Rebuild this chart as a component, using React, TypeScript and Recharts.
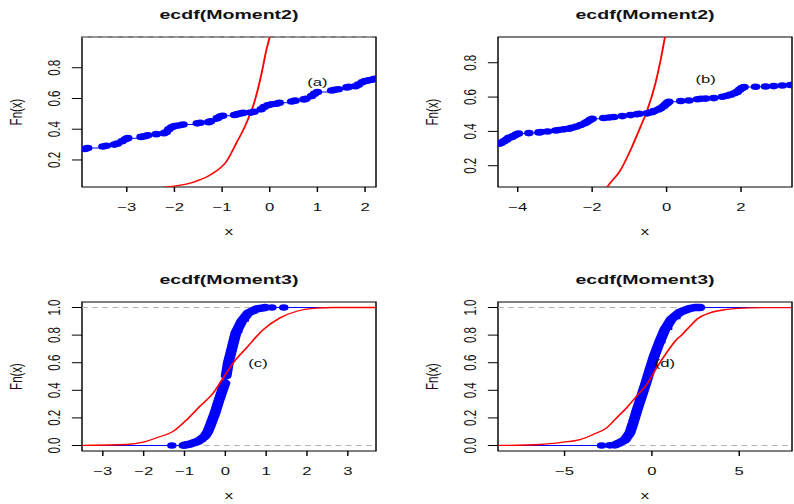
import React from 'react';
import { ComposedChart, Line, Scatter, XAxis, YAxis, ReferenceLine, ReferenceArea, ReferenceDot } from 'recharts';

// the reference is an R plot that was stretched sideways; we draw narrow and stretch the whole page
const S = 794 / 548;
const FONT = '"Liberation Sans", Arial, Helvetica, sans-serif';
const BLUE = '#0000ff';
const RED = '#ff0000';

type Pt = [number, number];

// (a) ecdf(Moment2)
const ecdfA: Pt[] = [
  [-3.88, 0.272], [-3.82, 0.277], [-3.5, 0.288], [-3.43, 0.292], [-3.26, 0.3], [-3.2, 0.306], [-3.1, 0.322],
  [-3.03, 0.335], [-2.98, 0.342], [-2.7, 0.35], [-2.62, 0.355], [-2.56, 0.36], [-2.38, 0.368], [-2.22, 0.374],
  [-2.17, 0.382], [-2.12, 0.4], [-2.06, 0.412], [-2.0, 0.42], [-1.92, 0.424], [-1.82, 0.43], [-1.52, 0.438],
  [-1.46, 0.442], [-1.28, 0.446], [-1.24, 0.452], [-1.1, 0.472], [-1.04, 0.482], [-0.99, 0.488], [-0.74, 0.492],
  [-0.68, 0.498], [-0.62, 0.502], [-0.56, 0.506], [-0.4, 0.508], [-0.33, 0.514], [-0.18, 0.53], [-0.12, 0.544],
  [-0.04, 0.556], [0.04, 0.562], [0.14, 0.566], [0.2, 0.572], [0.46, 0.58], [0.53, 0.586], [0.72, 0.594],
  [0.76, 0.598], [0.88, 0.616], [0.94, 0.63], [1.0, 0.642], [1.3, 0.652], [1.36, 0.656], [1.44, 0.66],
  [1.62, 0.672], [1.66, 0.676], [1.8, 0.68], [1.86, 0.69], [1.94, 0.706], [2.0, 0.714], [2.08, 0.718],
  [2.14, 0.722], [2.2, 0.728],
];
const normA: Pt[] = [
  [-2.6, 0.0], [-2.1, 0.027], [-1.75, 0.042], [-1.47, 0.07], [-1.19, 0.114], [-0.91, 0.19], [-0.7, 0.31],
  [-0.49, 0.44], [-0.31, 0.59], [-0.17, 0.765], [-0.07, 0.917], [0.0, 1.0], [0.05, 1.05],
];

// (b) ecdf(Moment2)
const ecdfB: Pt[] = [
  [-4.5, 0.328], [-4.44, 0.334], [-4.37, 0.343], [-4.3, 0.352], [-4.24, 0.362], [-4.16, 0.368], [-4.1, 0.375],
  [-4.04, 0.382], [-3.98, 0.388], [-3.7, 0.39], [-3.43, 0.394], [-3.38, 0.396], [-3.2, 0.399], [-2.98, 0.405],
  [-2.9, 0.408], [-2.76, 0.412], [-2.62, 0.416], [-2.54, 0.421], [-2.42, 0.428], [-2.31, 0.437], [-2.2, 0.447],
  [-2.13, 0.456], [-2.06, 0.466], [-2.0, 0.474], [-1.69, 0.478], [-1.55, 0.481], [-1.42, 0.484], [-1.19, 0.489],
  [-0.97, 0.495], [-0.8, 0.5], [-0.74, 0.503], [-0.52, 0.505], [-0.4, 0.512], [-0.34, 0.518], [-0.22, 0.528],
  [-0.16, 0.535], [-0.08, 0.546], [-0.03, 0.556], [0.02, 0.566], [0.06, 0.573], [0.38, 0.577], [0.6, 0.58],
  [0.83, 0.587], [0.92, 0.59], [1.05, 0.591], [1.27, 0.594], [1.5, 0.602], [1.62, 0.608], [1.72, 0.614],
  [1.82, 0.622], [1.9, 0.63], [1.96, 0.642], [2.02, 0.652], [2.08, 0.658], [2.39, 0.66], [2.66, 0.662],
  [2.88, 0.664], [3.11, 0.667], [3.33, 0.67],
];
const normB: Pt[] = [
  [-1.9, -0.05], [-1.59, 0.077], [-1.24, 0.174], [-0.97, 0.291], [-0.7, 0.427], [-0.52, 0.524], [-0.3, 0.68],
  [-0.16, 0.816], [-0.05, 0.942], [0.05, 1.05],
];

// (c) ecdf(Moment3)
const bandCLow: Pt[] = [
  [-1.0, 0.003], [-0.87, 0.01], [-0.66, 0.031], [-0.5, 0.067], [-0.43, 0.1], [-0.375, 0.14], [-0.31, 0.19],
  [-0.25, 0.237], [-0.15, 0.333], [-0.065, 0.406], [-0.01, 0.452],
];
const bandCHigh: Pt[] = [
  [0.02, 0.505], [0.074, 0.6], [0.157, 0.696], [0.26, 0.817], [0.4, 0.9], [0.56, 0.96], [0.77, 0.99], [0.97, 1.0],
];
const dotsC: Pt[] = [[-1.31, 0.0], [-1.03, 0.0], [0.97, 1.0], [1.14, 1.0], [1.43, 1.0]];
const normC: Pt[] = [
  [-3.6, 0.0], [-2.42, 0.007], [-2.01, 0.024], [-1.68, 0.056], [-1.27, 0.104], [-0.94, 0.188], [-0.62, 0.285],
  [-0.29, 0.382], [-0.05, 0.49], [0.196, 0.6], [0.52, 0.708], [0.93, 0.84], [1.34, 0.925], [1.75, 0.973],
  [2.24, 0.995], [2.65, 1.0], [3.8, 1.0],
];

// (d) ecdf(Moment3)
const bandD: Pt[] = [
  [-2.1, 0.005], [-1.93, 0.014], [-1.55, 0.039], [-1.26, 0.092], [-1.07, 0.164], [-0.84, 0.261], [-0.59, 0.357],
  [-0.34, 0.454], [-0.11, 0.551], [0.13, 0.647], [0.42, 0.744], [0.74, 0.84], [1.13, 0.918], [1.6, 0.966],
  [2.08, 0.99], [2.46, 1.0], [2.75, 1.0],
];
const dotsD: Pt[] = [[-2.88, 0.0], [-2.4, 0.001], [2.75, 1.0]];
const normD: Pt[] = [
  [-8.9, 0.0], [-6.41, 0.007], [-5.08, 0.024], [-4.12, 0.043], [-3.36, 0.08], [-2.59, 0.128], [-2.02, 0.2],
  [-1.45, 0.273], [-0.88, 0.357], [-0.3, 0.442], [0.27, 0.563], [0.84, 0.672], [1.41, 0.768], [1.7, 0.80],
  [1.99, 0.84], [2.3, 0.88], [2.56, 0.913], [3.32, 0.961], [4.28, 0.986], [5.61, 0.998], [8.1, 1.0],
];

const ticksXA = [-3, -2, -1, 0, 1, 2];
const ticksXB = [-4, -2, 0, 2];
const ticksXC = [-3, -2, -1, 0, 1, 2, 3];
const ticksXD = [-5, 0, 5];
const ticksY2 = [0.2, 0.4, 0.6, 0.8];
const ticksY3 = [0, 0.2, 0.4, 0.6, 0.8, 1.0];

const toObj = (pts: Pt[]) => pts.map(([x, y]) => ({ x, y }));

const fmtX = (v: number) => (v < 0 ? '\u2212' + Math.abs(v) : String(v));

const XTick = (props: any) => (
  <text x={props.x} y={props.y} dy="0.71em" textAnchor="middle" fontSize={11.5} fontFamily={FONT} fill="#111">
    {fmtX(props.payload.value)}
  </text>
);

const YTick = (props: any) => {
  const { x, y, payload } = props;
  return (
    <text x={x} y={y} dy="0.35em" textAnchor="middle" fontSize={11.5} fontFamily={FONT} fill="#111"
      transform={`rotate(-90, ${x}, ${y})`}>
      {payload.value.toFixed(1)}
    </text>
  );
};

const Dot = (p: any) => <circle cx={p.cx} cy={p.cy} r={3.3} fill={BLUE} />;

interface PanelProps {
  left: number; top: number;
  boxL: number; boxR: number; boxT: number; boxB: number;
  xDom: [number, number]; yDom: [number, number];
  xTicks: number[]; yTicks: number[];
  step: Pt[]; dots: Pt[]; band?: { x: number; y: number | null }[]; red: Pt[];
  tag: string; tagAt: Pt;
}

const Panel = (p: PanelProps) => {
  const margin = {
    left: (p.boxL - p.left) / S - 40,
    right: (p.left + 397 - p.boxR) / S,
    top: p.boxT - p.top,
    bottom: p.top + 252 - p.boxB - 30,
  };
  return (
    <div style={{ position: 'absolute', left: p.left / S, top: p.top }}>
      <ComposedChart width={397 / S} height={252} margin={margin}>
        <XAxis dataKey="x" type="number" domain={p.xDom} allowDataOverflow ticks={p.xTicks} interval={0}
          height={30} axisLine={false} tickLine={{ stroke: '#000' }} tickSize={5} tickMargin={11} tick={<XTick />} />
        <YAxis dataKey="y" type="number" domain={p.yDom} allowDataOverflow ticks={p.yTicks} interval={0}
          width={40} axisLine={false} tickLine={{ stroke: '#000' }} tickSize={7} tickMargin={12} tick={<YTick />} />
        <ReferenceArea x1={p.xDom[0]} x2={p.xDom[1]} y1={p.yDom[0]} y2={p.yDom[1]} fill="none" fillOpacity={0}
          stroke="#000" strokeWidth={1} ifOverflow="visible" />
        <ReferenceLine y={0} stroke="#b3b3b3" strokeWidth={1.2} strokeDasharray="4 3" />
        <ReferenceLine y={1} stroke="#b3b3b3" strokeWidth={1.2} strokeDasharray="4 3" />
        <ReferenceDot x={p.tagAt[0]} y={p.tagAt[1]} r={0} fill="none" stroke="none"
          label={{ value: p.tag, position: 'center', fill: '#111', fontSize: 11.5, fontFamily: FONT }} />
        <Line data={toObj(p.step)} dataKey="y" type="stepAfter" stroke={BLUE} strokeWidth={1} dot={false}
          isAnimationActive={false} />
        {p.band && (
          <Line data={p.band} dataKey="y" type="linear" stroke={BLUE} strokeWidth={7.5} strokeLinecap="round"
            strokeLinejoin="round" dot={false} connectNulls={false} isAnimationActive={false} />
        )}
        <Scatter data={toObj(p.dots)} dataKey="y" shape={<Dot />} isAnimationActive={false} />
        <Line data={toObj(p.red)} dataKey="y" type="monotone" stroke={RED} strokeWidth={1.3} dot={false}
          isAnimationActive={false} />
      </ComposedChart>
    </div>
  );
};

const panels: (PanelProps & { title: string })[] = [
  {
    title: 'ecdf(Moment2)', left: 0, top: 0, boxL: 82, boxR: 376, boxT: 37, boxB: 187,
    xDom: [-3.94, 2.23], yDom: [0.024, 1.0], xTicks: ticksXA, yTicks: ticksY2,
    step: [[-4.3, 0.272], ...ecdfA, [2.6, 0.73]], dots: ecdfA, red: normA, tag: '(a)', tagAt: [1.0, 0.705],
  },
  {
    title: 'ecdf(Moment2)', left: 397, top: 0, boxL: 498, boxR: 792, boxT: 37, boxB: 187,
    xDom: [-4.53, 3.37], yDom: [0.076, 0.95], xTicks: ticksXB, yTicks: ticksY2,
    step: [[-4.8, 0.32], ...ecdfB, [3.6, 0.67]], dots: ecdfB, red: normB, tag: '(b)', tagAt: [1.05, 0.705],
  },
  {
    title: 'ecdf(Moment3)', left: 0, top: 252, boxL: 82, boxR: 376, boxT: 302, boxB: 451,
    xDom: [-3.51, 3.69], yDom: [-0.04, 1.04], xTicks: ticksXC, yTicks: ticksY3,
    step: [[-3.8, 0], ...dotsC.slice(0, 2), ...bandCLow, ...bandCHigh, ...dotsC.slice(3), [3.9, 1]],
    dots: dotsC, red: normC, tag: '(c)', tagAt: [0.8, 0.6],
    band: [...toObj(bandCLow), { x: 0.005, y: null }, ...toObj(bandCHigh)],
  },
  {
    title: 'ecdf(Moment3)', left: 397, top: 252, boxL: 498, boxR: 792, boxT: 302, boxB: 451,
    xDom: [-8.81, 8.02], yDom: [-0.04, 1.04], xTicks: ticksXD, yTicks: ticksY3,
    step: [[-9.2, 0], ...dotsD.slice(0, 2), ...bandD, [8.4, 1]],
    dots: dotsD, red: normD, tag: '(d)', tagAt: [0.74, 0.6],
    band: toObj(bandD),
  },
];

export default function App() {
  return (
    <div style={{ position: 'absolute', left: 0, top: 0, width: 794, height: 504, overflow: 'hidden', background: '#fff' }}>
      <div style={{ position: 'absolute', left: 0, top: 0, width: 548, height: 504, transform: `scaleX(${S})`, transformOrigin: '0 0' }}>
        {panels.map((p) => (
          <Panel key={p.tag} {...p} />
        ))}
        <svg width={548} height={504} style={{ position: 'absolute', left: 0, top: 0, pointerEvents: 'none' }}>
          {panels.map((p) => {
            const cx = (p.boxL + p.boxR) / 2 / S;
            const cy = (p.boxT + p.boxB) / 2;
            const fx = (p.boxL - 66) / S;
            return (
              <g key={p.tag} fontFamily={FONT} fill="#111">
                <text x={cx} y={p.boxT - 18} textAnchor="middle" fontSize={13.5} fontWeight="bold">{p.title}</text>
                <text x={cx} y={p.boxB + 48.5} textAnchor="middle" fontSize={11.5}>x</text>
                <text x={fx} y={cy} dy="0.35em" textAnchor="middle" fontSize={11.5} transform={`rotate(-90, ${fx}, ${cy})`}>Fn(x)</text>
              </g>
            );
          })}
        </svg>
      </div>
    </div>
  );
}
